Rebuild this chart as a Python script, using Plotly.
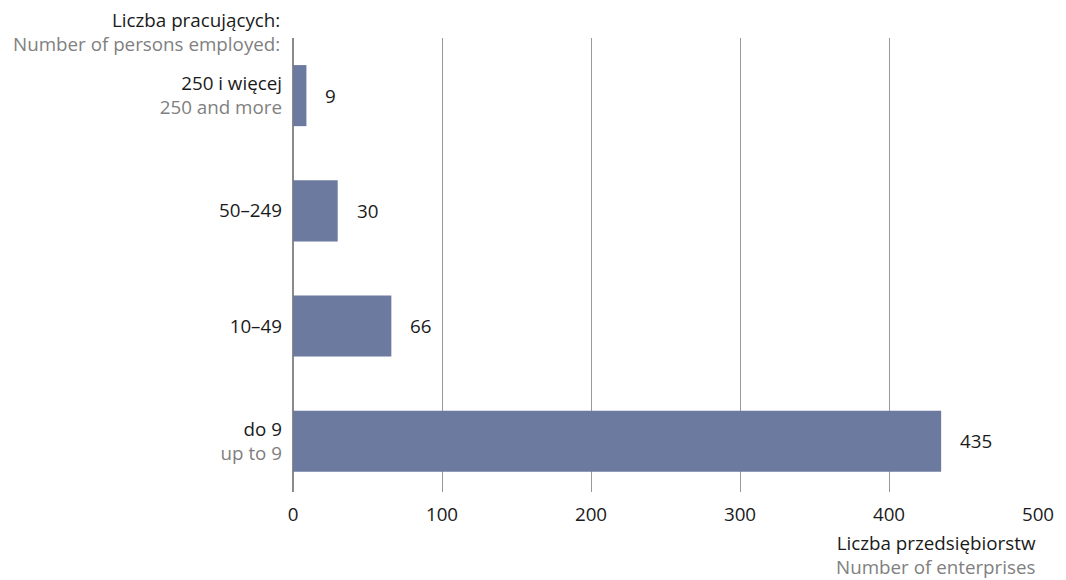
import plotly.graph_objects as go

categories_pl = ["do 9", "10–49", "50–249", "250 i więcej"]
categories_en = ["up to 9", "", "", "250 and more"]
values = [435, 66, 30, 9]
x_ticks = [0, 100, 200, 300, 400, 500]

y_title_pl = "Liczba pracujących:"
y_title_en = "Number of persons employed:"
x_title_pl = "Liczba przedsiębiorstw"
x_title_en = "Number of enterprises"

FONT = "Open Sans"
FS = 18.8
BAR = "#6d7a9f"
GREY_TXT = "#808080"
DARK = "#1a1a1a"
GRID = "#999999"

ticktext = []
for pl, en in zip(categories_pl, categories_en):
    if en:
        ticktext.append(f"{pl}<br><span style='color:{GREY_TXT}'>{en}</span>")
    else:
        ticktext.append(pl)

fig = go.Figure()
fig.add_trace(go.Bar(
    x=values, y=list(range(len(values))), orientation="h",
    marker=dict(color=BAR, line=dict(width=0)), width=0.53,
    hoverinfo="skip",
))

annotations = []
for i, v in enumerate(values):
    annotations.append(dict(x=v, y=i, xref="x", yref="y", text=str(v),
                            showarrow=False, xanchor="left", xshift=17,
                            font=dict(family=FONT, size=FS, color=DARK)))
annotations += [
    dict(xref="paper", yref="paper", x=-0.0146, y=1.0, yshift=6, xanchor="right", yanchor="middle",
         align="right",
         text=f"{y_title_pl}<br><span style='color:{GREY_TXT}'>{y_title_en}</span>", showarrow=False,
         font=dict(family=FONT, size=FS, color=DARK)),
    dict(xref="paper", yref="paper", x=1.0, y=0, yshift=-63, xanchor="right", yanchor="middle",
         align="right",
         text=f"{x_title_pl}<br><span style='color:{GREY_TXT}'>{x_title_en}</span>", showarrow=False,
         font=dict(family=FONT, size=FS, color=DARK)),
]

fig.update_layout(
    width=1066, height=580,
    margin=dict(l=293, r=21, t=38, b=88),
    paper_bgcolor="white", plot_bgcolor="white",
    showlegend=False,
    font=dict(family=FONT, size=FS, color=DARK),
    annotations=annotations,
    xaxis=dict(range=[0, 500], tickvals=x_ticks, ticktext=[str(t) for t in x_ticks],
               showgrid=True, gridcolor=GRID, gridwidth=1,
               zeroline=True, zerolinecolor="#8a8a8a", zerolinewidth=2,
               showline=False, ticks="", fixedrange=True,
               ticklabelstandoff=9,
               tickfont=dict(family=FONT, size=FS, color=DARK)),
    yaxis=dict(range=[-0.44, 3.5], tickvals=list(range(len(values))), ticktext=ticktext,
               showgrid=False, zeroline=False, showline=False, ticks="",
               ticklabelstandoff=10, fixedrange=True,
               tickfont=dict(family=FONT, size=FS, color=DARK)),
)

fig.write_html("out.html", config={"displayModeBar": False},
               post_script="document.body.style.margin='0';document.body.style.overflow='hidden';")
